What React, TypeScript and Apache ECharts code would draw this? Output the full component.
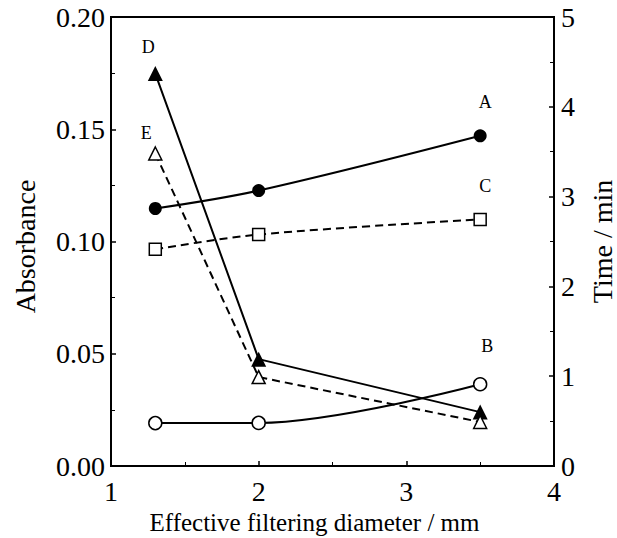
import React, { useEffect, useRef } from "react";
import * as echarts from "echarts";

const diameters = [1.3, 2, 3.5];
const absA = [0.1147, 0.1227, 0.1471];
const absB = [0.0191, 0.0192, 0.0364];
const absC = [0.0965, 0.1031, 0.1098];
const timeD = [4.37, 1.19, 0.6];
const timeE = [3.48, 0.99, 0.49];
const seriesNames = ["A", "B", "C", "D", "E"];

const FONT = "Liberation Serif";

function build(vals: number[], name: string, labelIdx: number, labelOffset: number[]) {
  return diameters.map((d, i) =>
    i === labelIdx
      ? {
          value: [d, vals[i]],
          label: {
            show: true,
            formatter: name,
            position: "top",
            distance: 0,
            offset: labelOffset,
            color: "#000",
            fontFamily: FONT,
            fontSize: 18,
          },
        }
      : { value: [d, vals[i]] }
  );
}

export default function App() {
  const ref = useRef<HTMLDivElement>(null);
  useEffect(() => {
    const chart = echarts.init(ref.current!, null, { renderer: "svg" });
    const axisLine = { show: true, lineStyle: { color: "#000", width: 2 } };
    const axisLabel = { color: "#000", fontFamily: FONT, fontSize: 28 };
    const tick = { show: true, inside: true, length: 5, lineStyle: { color: "#000", width: 1.5 } };
    const minor = { show: true, splitNumber: 2, length: 4, lineStyle: { color: "#000" } };
    chart.setOption({
      animation: false,
      backgroundColor: "#fff",
      grid: {
        left: 111,
        right: 63,
        top: 17,
        bottom: 72,
        containLabel: false,
        outerBoundsMode: "none",
        show: true,
        borderColor: "#000",
        borderWidth: 2,
        backgroundColor: "transparent",
      },
      xAxis: {
        type: "value",
        min: 1,
        max: 4,
        interval: 1,
        name: "Effective filtering diameter / mm",
        nameLocation: "middle",
        nameGap: 43,
        nameTextStyle: { color: "#000", fontFamily: FONT, fontSize: 25, padding: [0, 36, 0, 0] },
        axisLine,
        axisTick: tick,
        minorTick: minor,
        splitLine: { show: false },
        axisLabel: { ...axisLabel, margin: 11 },
      },
      yAxis: [
        {
          type: "value",
          min: 0,
          max: 0.2,
          interval: 0.05,
          name: "Absorbance",
          nameLocation: "middle",
          nameGap: 72,
          nameTextStyle: { color: "#000", fontFamily: FONT, fontSize: 28, padding: [0, 10, 0, 0] },
          axisLine,
          axisTick: tick,
          minorTick: minor,
          splitLine: { show: false },
          axisLabel: {
            ...axisLabel,
            margin: 6,
            padding: [10, 0, 0, 0],
            formatter: (v: number) => v.toFixed(2),
          },
        },
        {
          type: "value",
          min: 0,
          max: 5,
          interval: 1,
          position: "right",
          name: "Time / min",
          nameLocation: "middle",
          nameGap: 34,
          nameRotate: 90,
          nameTextStyle: { color: "#000", fontFamily: FONT, fontSize: 28 },
          axisLine,
          axisTick: tick,
          minorTick: minor,
          splitLine: { show: false },
          axisLabel: { ...axisLabel, margin: 7, padding: [10, 0, 0, 0] },
        },
      ],
      series: [
        {
          name: seriesNames[0],
          type: "line",
          smooth: 0.35,
          data: build(absA, "A", 2, [5, -18]),
          symbol: "circle",
          symbolSize: 13,
          itemStyle: { color: "#000" },
          lineStyle: { color: "#000", width: 2 },
        },
        {
          name: seriesNames[1],
          type: "line",
          smooth: 0.35,
          data: build(absB, "B", 2, [7, -22]),
          symbol: "circle",
          symbolSize: 13,
          itemStyle: { color: "#fff", borderColor: "#000", borderWidth: 1.5 },
          lineStyle: { color: "#000", width: 2 },
        },
        {
          name: seriesNames[2],
          type: "line",
          smooth: 0.35,
          data: build(absC, "C", 2, [5, -18]),
          symbol: "rect",
          symbolSize: 12,
          itemStyle: { color: "#fff", borderColor: "#000", borderWidth: 1.5 },
          lineStyle: { color: "#000", width: 2, type: [8, 5] },
        },
        {
          name: seriesNames[3],
          type: "line",
          yAxisIndex: 1,
          data: build(timeD, "D", 0, [-7, -10]),
          symbol: "triangle",
          symbolSize: 15,
          itemStyle: { color: "#000" },
          lineStyle: { color: "#000", width: 2 },
        },
        {
          name: seriesNames[4],
          type: "line",
          yAxisIndex: 1,
          data: build(timeE, "E", 0, [-9, -4]),
          symbol: "triangle",
          symbolSize: 13,
          itemStyle: { color: "#fff", borderColor: "#000", borderWidth: 1.5 },
          lineStyle: { color: "#000", width: 2, type: [8, 5] },
        },
      ],
    });
    return () => chart.dispose();
  }, []);
  return <div ref={ref} style={{ width: 617, height: 538, position: "absolute", left: 0, top: 0 }} />;
}
